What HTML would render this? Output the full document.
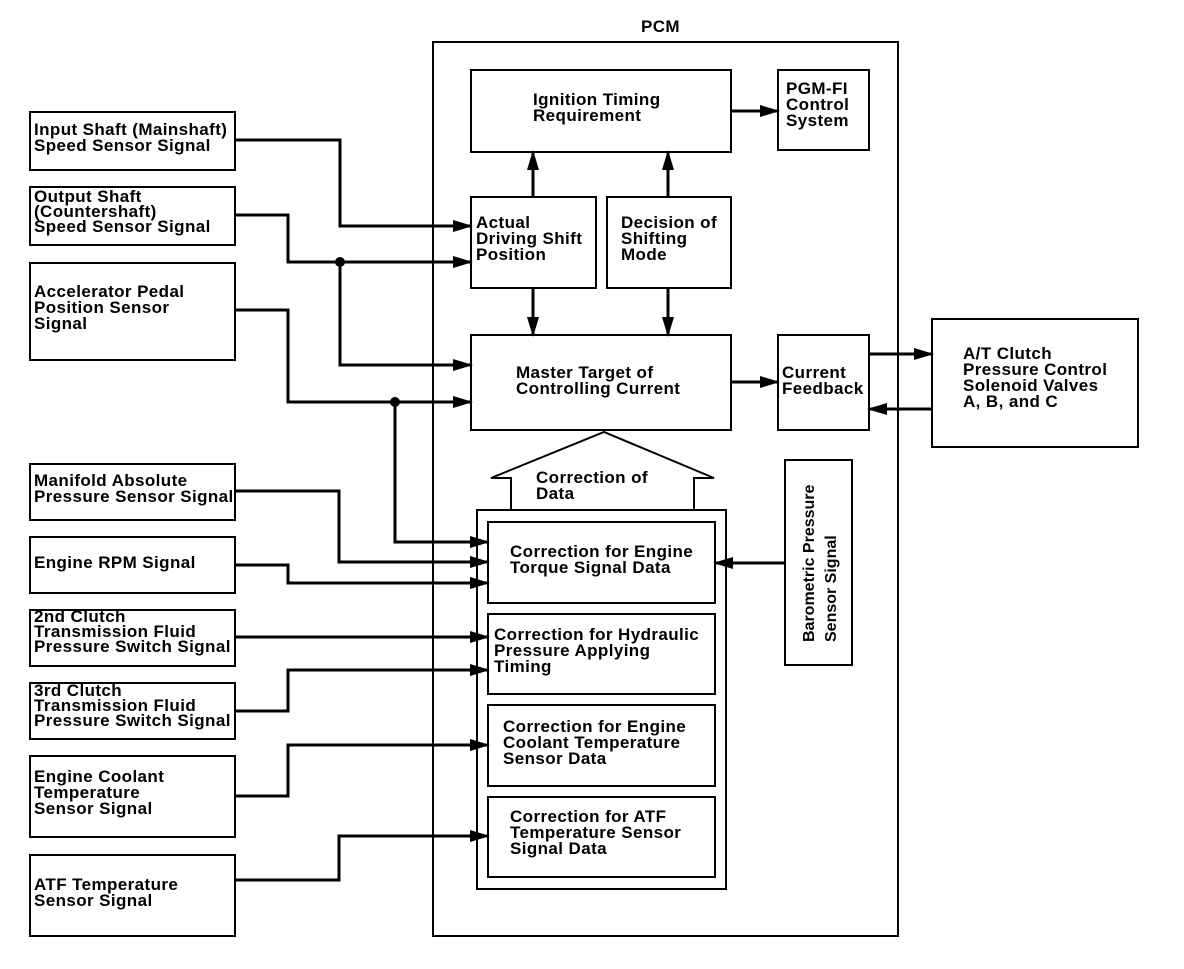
<!DOCTYPE html>
<html><head><meta charset="utf-8"><style>
html,body{margin:0;padding:0;background:#fff}
svg text{font-family:"Liberation Sans",Arial,sans-serif;font-weight:bold;font-size:17px;letter-spacing:0.4px;fill:#000}
svg text.v{font-size:16px;letter-spacing:0}
</style></head><body>
<svg width="1184" height="964" viewBox="0 0 1184 964" xmlns="http://www.w3.org/2000/svg">
<defs>
<marker id="a" markerWidth="20" markerHeight="12" refX="18" refY="6" orient="auto" markerUnits="userSpaceOnUse">
<path d="M0,0 L20,6 L0,12 Z" fill="#000"/></marker>
</defs>
<g fill="none" stroke="#000" stroke-width="2">
<rect x="433" y="42" width="465" height="894"/>
<rect x="471" y="70" width="260" height="82"/>
<rect x="778" y="70" width="91" height="80"/>
<rect x="471" y="197" width="125" height="91"/>
<rect x="607" y="197" width="124" height="91"/>
<rect x="471" y="335" width="260" height="95"/>
<rect x="778" y="335" width="91" height="95"/>
<rect x="932" y="319" width="206" height="128"/>
<rect x="477" y="510" width="249" height="379"/>
<rect x="488" y="522" width="227" height="81"/>
<rect x="488" y="614" width="227" height="80"/>
<rect x="488" y="705" width="227" height="81"/>
<rect x="488" y="797" width="227" height="80"/>
<rect x="785" y="460" width="67" height="205"/>
<path d="M511,510 V478 H491 L604,432 L714,478 H694 V510"/>
<rect x="30" y="112" width="205" height="58"/>
<rect x="30" y="187" width="205" height="58"/>
<rect x="30" y="263" width="205" height="97"/>
<rect x="30" y="464" width="205" height="56"/>
<rect x="30" y="537" width="205" height="56"/>
<rect x="30" y="610" width="205" height="56"/>
<rect x="30" y="683" width="205" height="56"/>
<rect x="30" y="756" width="205" height="81"/>
<rect x="30" y="855" width="205" height="81"/>
</g>
<g fill="none" stroke="#000" stroke-width="3">
<path d="M235,140 H340 V226 H471" marker-end="url(#a)"/>
<path d="M235,215 H288 V262 H471" marker-end="url(#a)"/>
<path d="M340,262 V365 H471" marker-end="url(#a)"/>
<path d="M235,310 H288 V402 H471" marker-end="url(#a)"/>
<path d="M395,402 V542 H488" marker-end="url(#a)"/>
<path d="M235,491 H339 V562 H488" marker-end="url(#a)"/>
<path d="M235,565 H288 V583 H488" marker-end="url(#a)"/>
<path d="M235,637 H488" marker-end="url(#a)"/>
<path d="M235,711 H288 V670 H488" marker-end="url(#a)"/>
<path d="M235,796 H288 V745 H488" marker-end="url(#a)"/>
<path d="M235,880 H339 V836 H488" marker-end="url(#a)"/>
<path d="M785,563 H715" marker-end="url(#a)"/>
<path d="M533,197 V152" marker-end="url(#a)"/>
<path d="M668,197 V152" marker-end="url(#a)"/>
<path d="M533,288 V335" marker-end="url(#a)"/>
<path d="M668,288 V335" marker-end="url(#a)"/>
<path d="M731,111 H778" marker-end="url(#a)"/>
<path d="M731,382 H778" marker-end="url(#a)"/>
<path d="M869,354 H932" marker-end="url(#a)"/>
<path d="M932,409 H869" marker-end="url(#a)"/>
</g>
<circle cx="340" cy="262" r="5"/>
<circle cx="395" cy="402" r="5"/>
<text x="641" y="32">PCM</text>
<text x="533" y="105">Ignition Timing</text><text x="533" y="121">Requirement</text>
<text x="786" y="94">PGM-FI</text><text x="786" y="110">Control</text><text x="786" y="126">System</text>
<text x="476" y="228">Actual</text><text x="476" y="244">Driving Shift</text><text x="476" y="260">Position</text>
<text x="621" y="228">Decision of</text><text x="621" y="244">Shifting</text><text x="621" y="260">Mode</text>
<text x="516" y="378">Master Target of</text><text x="516" y="394">Controlling Current</text>
<text x="782" y="378">Current</text><text x="782" y="394">Feedback</text>
<text x="963" y="359">A/T Clutch</text><text x="963" y="375">Pressure Control</text><text x="963" y="391">Solenoid Valves</text><text x="963" y="407">A, B, and C</text>
<text x="536" y="483">Correction of</text><text x="536" y="499">Data</text>
<text x="510" y="557">Correction for Engine</text><text x="510" y="573">Torque Signal Data</text>
<text x="494" y="640">Correction for Hydraulic</text><text x="494" y="656">Pressure Applying</text><text x="494" y="672">Timing</text>
<text x="503" y="732">Correction for Engine</text><text x="503" y="748">Coolant Temperature</text><text x="503" y="764">Sensor Data</text>
<text x="510" y="822">Correction for ATF</text><text x="510" y="838">Temperature Sensor</text><text x="510" y="854">Signal Data</text>
<text class="v" transform="translate(814,642) rotate(-90)">Barometric Pressure</text>
<text class="v" transform="translate(836,642) rotate(-90)">Sensor Signal</text>
<text x="34" y="135">Input Shaft (Mainshaft)</text><text x="34" y="151">Speed Sensor Signal</text>
<text x="34" y="202">Output Shaft</text><text x="34" y="217">(Countershaft)</text><text x="34" y="232">Speed Sensor Signal</text>
<text x="34" y="297">Accelerator Pedal</text><text x="34" y="313">Position Sensor</text><text x="34" y="329">Signal</text>
<text x="34" y="486">Manifold Absolute</text><text x="34" y="502">Pressure Sensor Signal</text>
<text x="34" y="568">Engine RPM Signal</text>
<text x="34" y="622">2nd Clutch</text><text x="34" y="637">Transmission Fluid</text><text x="34" y="652">Pressure Switch Signal</text>
<text x="34" y="696">3rd Clutch</text><text x="34" y="711">Transmission Fluid</text><text x="34" y="726">Pressure Switch Signal</text>
<text x="34" y="782">Engine Coolant</text><text x="34" y="798">Temperature</text><text x="34" y="814">Sensor Signal</text>
<text x="34" y="890">ATF Temperature</text><text x="34" y="906">Sensor Signal</text>
</svg>
</body></html>
